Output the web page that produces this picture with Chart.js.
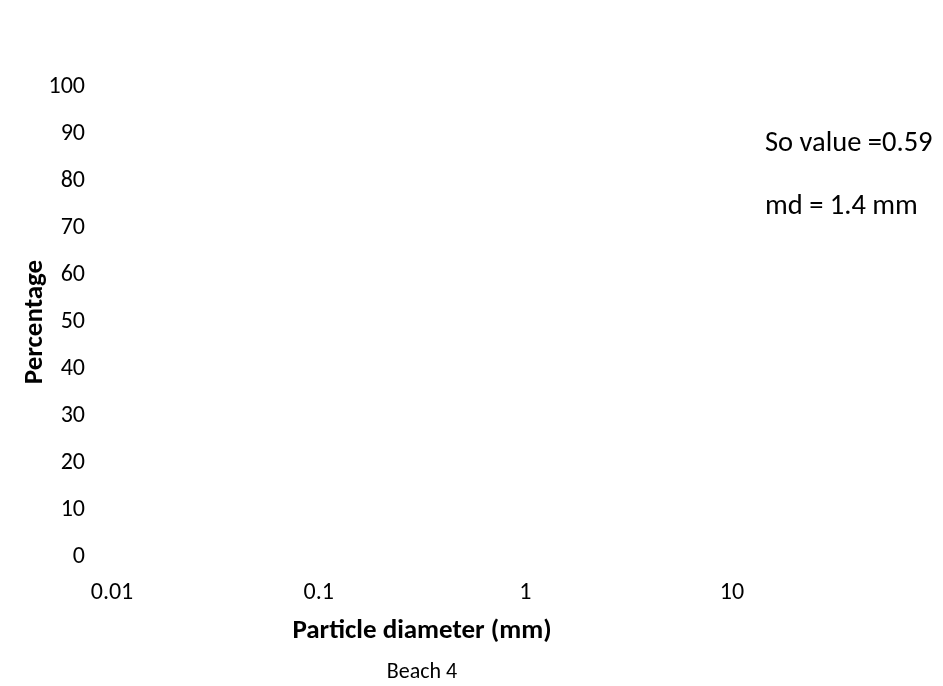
<!DOCTYPE html>
<html>
<head>
<meta charset="utf-8">
<title>Beach 4</title>
<script src="https://cdn.jsdelivr.net/npm/chart.js@4.4.1/dist/chart.umd.min.js"></script>
<style>
  html, body { margin: 0; padding: 0; background: #fff; }
  #wrap { width: 943px; height: 686px; }
</style>
</head>
<body>
<div id="wrap"><canvas id="grainChart" width="943" height="686"></canvas></div>
<script>
// axis ranges and tick values
const xTicks = [0.01, 0.1, 1, 10];
const yMin = 0;
const yMax = 100;
const yStep = 10;

// sample summary printed beside the plot
const notes = ['So value =0.59', 'md = 1.4 mm'];

const FONT = 'Carlito, Lato, "Liberation Sans", sans-serif';

// writes the summary lines to the right of the plot area
const notesPlugin = {
    id: 'notes',
    afterDraw(chart) {
        const { ctx, chartArea } = chart;
        ctx.save();
        ctx.font = '28.5px ' + FONT;
        ctx.fillStyle = '#000';
        ctx.textAlign = 'left';
        ctx.textBaseline = 'middle';
        notes.forEach((line, i) => {
            ctx.fillText(line, chartArea.right + 33, chartArea.top + 57 + i * 63);
        });
        ctx.restore();
    }
};

const ctx = document.getElementById('grainChart');
new Chart(ctx, {
    type: 'scatter',
    data: { datasets: [] },
    options: {
        responsive: false,
        animation: false,
        layout: { padding: { top: 87, right: 211, bottom: 0, left: 0 } },
        plugins: {
            legend: { display: false },
            tooltip: { enabled: false },
            title: {
                display: true,
                fullSize: false,
                position: 'bottom',
                text: 'Beach 4',
                color: '#000',
                font: { family: FONT, size: 22, weight: 'normal' },
                padding: { top: 0, bottom: 0 }
            }
        },
        scales: {
            x: {
                type: 'logarithmic',
                min: xTicks[0],
                max: xTicks[xTicks.length - 1],
                afterBuildTicks: scale => {
                    scale.ticks = xTicks.map(v => ({ value: v }));
                },
                afterFit: scale => { scale.height = 102.6; },
                grid: { display: false, drawTicks: false },
                border: { display: false },
                ticks: {
                    padding: 22,
                    color: '#000',
                    font: { family: FONT, size: 24 },
                    maxRotation: 0,
                    autoSkip: false,
                    callback: v => String(v)
                },
                title: {
                    display: true,
                    text: 'Particle diameter (mm)',
                    color: '#000',
                    font: { family: FONT, size: 27, weight: 'bold' },
                    padding: { top: 0, bottom: 12 }
                }
            },
            y: {
                min: yMin,
                max: yMax,
                afterFit: scale => { scale.width = 112; },
                grid: { display: false, drawTicks: false },
                border: { display: false },
                ticks: {
                    stepSize: yStep,
                    padding: 27,
                    color: '#000',
                    font: { family: FONT, size: 24 }
                },
                title: {
                    display: true,
                    text: 'Percentage',
                    color: '#000',
                    font: { family: FONT, size: 27, weight: 'bold' },
                    padding: { top: 18.8, bottom: 0 }
                }
            }
        }
    },
    plugins: [notesPlugin]
});
</script>
</body>
</html>
